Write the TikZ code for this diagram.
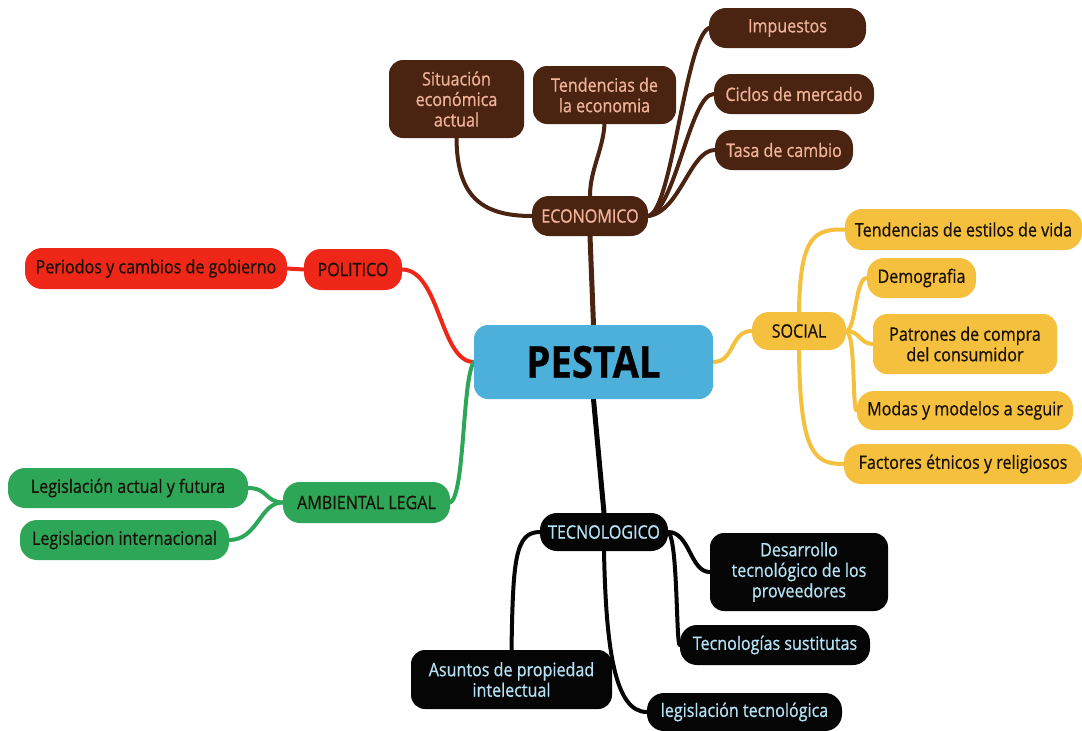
\documentclass[tikz,border=0pt]{standalone}
\usepackage{fontspec}
\setmainfont{Open Sans}[FakeStretch=0.87, FakeBold=0.7]
\usetikzlibrary{backgrounds}

\definecolor{pestalblue}{HTML}{4DB0DA}
\definecolor{ecobrown}{HTML}{4A2411}
\definecolor{ecotext}{HTML}{F0B39A}
\definecolor{polred}{HTML}{EE2718}
\definecolor{socyellow}{HTML}{F4C03E}
\definecolor{ambgreen}{HTML}{2DA757}
\definecolor{tecblack}{HTML}{050505}
\definecolor{tectext}{HTML}{B5E3F5}
\definecolor{darktext}{HTML}{1A1208}

\tikzset{
  box/.style={rounded corners=17pt, align=center, inner sep=0pt,
    font=\fontsize{18.5}{20.5}\selectfont},
  bigbox/.style={box, rounded corners=14pt},
  ecobox/.style={fill=ecobrown, text=ecotext},
  polbox/.style={fill=polred, text=darktext},
  socbox/.style={fill=socyellow, text=darktext},
  ambbox/.style={fill=ambgreen, text=darktext},
  tecbox/.style={fill=tecblack, text=tectext},
  link/.style={line width=4pt, line cap=round},
  trunk/.style={line width=5pt},
  ecolink/.style={link, draw=ecobrown},
  pollink/.style={link, draw=polred},
  soclink/.style={link, draw=socyellow},
  amblink/.style={link, draw=ambgreen},
  teclink/.style={link, draw=tecblack},
}

\begin{document}
\begin{tikzpicture}[x=1pt, y=-1pt]
\useasboundingbox (0,0) rectangle (1082,731);

% central topic
\node[bigbox, fill=pestalblue, text=black, minimum width=239pt, minimum height=74pt,
      font=\fontsize{44}{48}\selectfont\bfseries] (pestal) at (593.5,362) {PESTAL};

% economic branch
\node[box, ecobox, minimum width=116pt, minimum height=40pt] (eco) at (590,216) {ECONOMICO};
\node[bigbox, ecobox, minimum width=135pt, minimum height=78pt] (sit) at (456.5,99) {Situación\\económica\\actual};
\node[bigbox, ecobox, minimum width=143pt, minimum height=58pt] (tend) at (604.5,95) {Tendencias de\\la economia};
\node[box, ecobox, minimum width=157pt, minimum height=40pt] (imp) at (787.5,28) {Impuestos};
\node[box, ecobox, minimum width=160pt, minimum height=40pt] (cic) at (794,94) {Ciclos de mercado};
\node[box, ecobox, minimum width=138pt, minimum height=40pt] (tasa) at (784,150) {Tasa de cambio};

% political branch
\node[box, polbox, minimum width=98pt, minimum height=41pt] (pol) at (353,269.5) {POLITICO};
\node[box, polbox, minimum width=262pt, minimum height=41pt] (per) at (156,268.5) {Periodos y cambios de gobierno};

% social branch
\node[box, socbox, minimum width=94pt, minimum height=38pt] (soc) at (799,331) {SOCIAL};
\node[box, socbox, minimum width=237pt, minimum height=41pt] (tev) at (963.5,229.5) {Tendencias de estilos de vida};
\node[box, socbox, minimum width=109pt, minimum height=40pt] (dem) at (921.5,278) {Demografia};
\node[bigbox, socbox, minimum width=184pt, minimum height=60pt] (pat) at (965,344) {Patrones de compra\\del consumidor};
\node[box, socbox, minimum width=216pt, minimum height=39pt] (mod) at (965,410.5) {Modas y modelos a seguir};
\node[box, socbox, minimum width=238pt, minimum height=40pt] (fac) at (963,464) {Factores étnicos y religiosos};

% environmental / legal branch
\node[box, ambbox, minimum width=167pt, minimum height=41pt] (amb) at (366.5,502.5) {AMBIENTAL LEGAL};
\node[box, ambbox, minimum width=240pt, minimum height=40pt] (lega) at (128,488) {Legislación actual y futura};
\node[box, ambbox, minimum width=209pt, minimum height=40pt] (legi) at (124.5,540) {Legislacion internacional};

% technological branch
\node[box, tecbox, minimum width=128pt, minimum height=38pt] (tec) at (604,532) {TECNOLOGICO};
\node[bigbox, tecbox, minimum width=178pt, minimum height=78pt] (des) at (799,572) {Desarrollo\\tecnológico de los\\proveedores};
\node[box, tecbox, minimum width=190pt, minimum height=40pt] (tss) at (775,645) {Tecnologías sustitutas};
\node[bigbox, tecbox, minimum width=201pt, minimum height=59pt] (asu) at (511.5,679.5) {Asuntos de propiedad\\intelectual};
\node[box, tecbox, minimum width=195pt, minimum height=38pt] (legt) at (744.5,712) {legislación tecnológica};

\begin{scope}[on background layer]
  % economic links
  \draw[ecolink, trunk] (pestal.north) -- (eco.south);
  \draw[ecolink] (sit.south) .. controls (457,195) and (480,216) .. (eco.west);
  \draw[ecolink] (tend.south) .. controls (603,150) and (590,170) .. (eco.north);
  \draw[ecolink] (eco.east) .. controls (672,212) and (685,40) .. (imp.west);
  \draw[ecolink] (eco.east) .. controls (675,212) and (690,94) .. (cic.west);
  \draw[ecolink] (eco.east) .. controls (680,212) and (690,150) .. (tasa.west);

  % political links
  \draw[pollink] (pestal.west) .. controls (440,362) and (440,270) .. (pol.east);
  \draw[pollink] (per.east) -- (pol.west);

  % social links
  \draw[soclink] (pestal.east) .. controls (735,362) and (730,331) .. (soc.west);
  \draw[soclink] (soc.north) .. controls (800,235) and (815,229) .. (tev.west);
  \draw[soclink] (soc.south) .. controls (800,455) and (815,464) .. (fac.west);
  \draw[soclink] (soc.east) .. controls (856,330) and (855,278) .. (dem.west);
  \draw[soclink] (soc.east) .. controls (860,331) and (860,344) .. (pat.west);
  \draw[soclink] (soc.east) .. controls (856,335) and (852,410) .. (mod.west);

  % environmental / legal links
  \draw[amblink] (pestal.west) .. controls (462,380) and (465,495) .. (amb.east);
  \draw[amblink] (amb.west) .. controls (265,502) and (268,488) .. (lega.east);
  \draw[amblink] (amb.west) .. controls (260,502) and (258,540) .. (legi.east);

  % technological links
  \draw[teclink, trunk] (pestal.south) -- (tec.north);
  \draw[teclink] (tec.west) .. controls (515,532) and (513,560) .. (asu.north);
  \draw[teclink] (tec.south) .. controls (606,650) and (615,712) .. (legt.west);
  \draw[teclink] (tec.east) .. controls (690,532) and (690,572) .. (des.west);
  \draw[teclink] (tec.east) .. controls (678,540) and (676,645) .. (tss.west);
\end{scope}
\end{tikzpicture}
\end{document}
